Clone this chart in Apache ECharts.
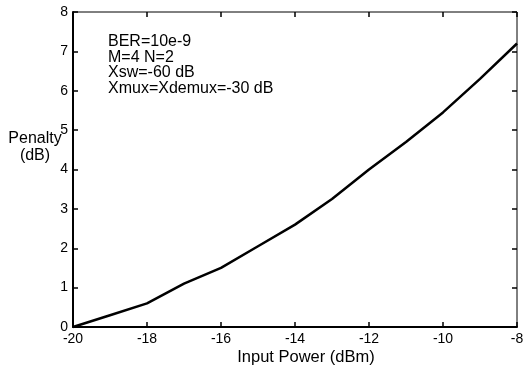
<!DOCTYPE html>
<html>
<head>
<meta charset="utf-8">
<script src="https://cdn.jsdelivr.net/npm/echarts@6/dist/echarts.min.js"></script>
<style>
  html, body { margin: 0; padding: 0; background: #fff; }
  #chart { width: 523px; height: 369px; }
</style>
</head>
<body>
<div id="chart"></div>
<script>
// input power (dBm) vs penalty (dB)
const inputPower = [-20, -19, -18, -17, -16, -15, -14, -13, -12, -11, -10, -9, -8];
const penalty = [0, 0.3, 0.6, 1.1, 1.5, 2.05, 2.6, 3.25, 4.0, 4.7, 5.45, 6.3, 7.2];
const notes = ["BER=10e-9", "M=4 N=2", "Xsw=-60 dB", "Xmux=Xdemux=-30 dB"];

var chart = echarts.init(document.getElementById("chart"));
var font = "Liberation Sans, Arial, sans-serif";

// 1px axis lines don't show reliably here, so box = grid border + 2px main axes
function boxAxis(lineShow, extra) {
  return Object.assign({
    axisLine: { show: lineShow, onZero: false, lineStyle: { color: "#000", width: 2 } },
    axisTick: { show: true, inside: true, length: 5, lineStyle: { color: "#000", width: 1.5 } },
    splitLine: { show: false }
  }, extra);
}

var option = {
  animation: false,
  grid: {
    left: 73, right: 6, top: 12, bottom: 42,
    outerBoundsMode: "none",
    show: true, borderColor: "#000", borderWidth: 1
  },
  xAxis: [
    boxAxis(true, {
      type: "value", min: -20, max: -8, interval: 2,
      axisLabel: { fontFamily: font, fontSize: 14, color: "#000", margin: 5 }
    }),
    boxAxis(false, {
      type: "value", min: -20, max: -8, interval: 2, position: "top",
      axisLabel: { show: false }
    })
  ],
  yAxis: [
    boxAxis(true, {
      type: "value", min: 0, max: 8, interval: 1,
      axisLabel: { fontFamily: font, fontSize: 14, color: "#000", margin: 5 }
    }),
    boxAxis(false, {
      type: "value", min: 0, max: 8, interval: 1, position: "right",
      axisLabel: { show: false }
    })
  ],
  graphic: [
    {
      type: "text", x: 108, y: 34,
      style: { text: notes.join("\n"), font: "16px " + font, lineHeight: 15.5, fill: "#000" }
    },
    {
      type: "text", x: 35, y: 130,
      style: { text: "Penalty\n(dB)", font: "16px " + font, lineHeight: 17, align: "center", fill: "#000" }
    },
    {
      type: "text", x: 306, y: 349,
      style: { text: "Input Power (dBm)", font: "16.5px " + font, align: "center", fill: "#000" }
    }
  ],
  series: [
    {
      type: "line",
      xAxisIndex: 0,
      yAxisIndex: 0,
      data: inputPower.map((x, i) => [x, penalty[i]]),
      showSymbol: false,
      lineStyle: { color: "#000", width: 2.5 },
      clip: false
    }
  ]
};

chart.setOption(option);
</script>
</body>
</html>
